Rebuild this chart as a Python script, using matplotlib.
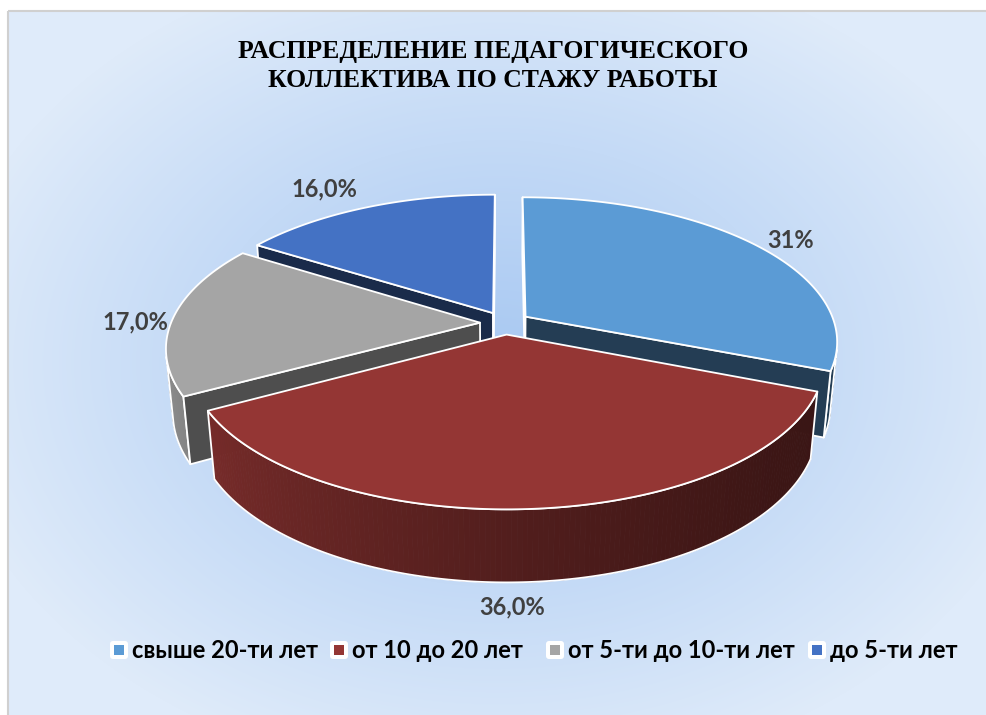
import numpy as np
import matplotlib
matplotlib.use("Agg")
import matplotlib.pyplot as plt
from matplotlib.patches import Polygon, FancyBboxPatch, Rectangle
from matplotlib.colors import to_rgb

# ---------------- data ----------------
categories = ["свыше 20-ти лет", "от 10 до 20 лет", "от 5-ти до 10-ти лет", "до 5-ти лет"]
values = [31, 36, 17, 16]
value_labels = ["31%", "36,0%", "17,0%", "16,0%"]
colors = ["#5B9BD5", "#943634", "#A5A5A5", "#4472C4"]
title = "РАСПРЕДЕЛЕНИЕ ПЕДАГОГИЧЕСКОГО\nКОЛЛЕКТИВА ПО СТАЖУ РАБОТЫ"

# ---------------- layout / style ----------------
W, H = 986, 715
label_pos = [(791, 240), (512, 607), (135, 322), (324, 189)]
legend_x = [119, 339, 555, 817]
legend_y = 650
SANS = ["Lato", "DejaVu Sans"]
SERIF = ["Liberation Serif", "DejaVu Serif"]

fig = plt.figure(figsize=(W / 100, H / 100), dpi=100)
ax = fig.add_axes([0, 0, 1, 1])
ax.set_xlim(0, W)
ax.set_ylim(H, 0)
ax.axis("off")

# background (radial gradient inside frame)
x0, y0 = 8, 11
yy, xx = np.mgrid[y0:H, x0:W].astype(float)
gcx, gcy = 497, 363
r = np.sqrt(((xx - gcx) / 560.0) ** 2 + ((yy - gcy) / 420.0) ** 2)
t = np.clip(r, 0, 1) ** 1.1
c_in = np.array(to_rgb("#a9c9f2"))
c_out = np.array(to_rgb("#dfebfa"))
bg = c_in[None, None, :] * (1 - t[..., None]) + c_out[None, None, :] * t[..., None]
ax.imshow(bg, extent=(x0, W, H, y0), origin="upper", zorder=0, interpolation="bilinear")
ax.add_patch(Rectangle((x0, y0), W - x0 + 5, H - y0 + 5, fill=False,
                       edgecolor="#d0d0d0", lw=1.5, zorder=1))

# ---------------- 3D pie projection ----------------
F = 1644.0
D = 5.32
phi = np.radians(27.2)
cphi, sphi = np.cos(phi), np.sin(phi)
CX, CY = 505.0, 323.0
HGT = 0.237
EXPL = 0.081
cam = np.array([0.0, -D * cphi, D * sphi])


def proj(X, Y, Z):
    X = np.asarray(X, float); Y = np.asarray(Y, float); Z = np.asarray(Z, float)
    d = D + Y * cphi - Z * sphi
    yv = Y * sphi + Z * cphi
    return CX + F * X / d, CY - F * yv / d


def shade(col, f):
    c = np.array(to_rgb(col)) * f
    return tuple(np.clip(c, 0, 1))


def side_factor(th):
    return 0.64 + 0.243 * np.cos(np.radians(th - 290))


def radial_factor(nang):
    nang = nang % 360
    return float(np.clip(0.47 - 0.0015 * (nang - 151), 0.3, 0.58))


def visible(n, p):
    return np.dot(n, cam - p) > 0


EDGE = dict(edgecolor="white", lw=1.3, joinstyle="round")

total = float(sum(values))
starts = np.cumsum([0] + values[:-1]) / total * 360.0
ends = np.cumsum(values) / total * 360.0
mids = (starts + ends) / 2
order = np.argsort(-np.cos(np.radians(mids)))  # back first

z = 2
for i in order:
    a0, a1, m = starts[i], ends[i], mids[i]
    col = colors[i]
    ox, oy = EXPL * np.sin(np.radians(m)), EXPL * np.cos(np.radians(m))
    th = np.linspace(a0, a1, 160)
    tr = np.radians(th)
    RX, RY = ox + np.sin(tr), oy + np.cos(tr)

    # outer curved side
    vis = np.array([visible(np.array([np.sin(a), np.cos(a), 0]),
                            np.array([ox + np.sin(a), oy + np.cos(a), 0.0])) for a in tr])
    if vis.any():
        idx = np.where(vis)[0]
        for k in idx[:-1]:
            if not vis[k + 1]:
                continue
            xs = [RX[k], RX[k + 1], RX[k + 1], RX[k]]
            ys = [RY[k], RY[k + 1], RY[k + 1], RY[k]]
            zs = [0, 0, -HGT, -HGT]
            px, py = proj(xs, ys, zs)
            fc = shade(col, side_factor((th[k] + th[k + 1]) / 2))
            ax.add_patch(Polygon(np.c_[px, py], closed=True, facecolor=fc,
                                 edgecolor=fc, lw=0.6, zorder=z))
        k0, k1 = idx[0], idx[-1]
        tx, ty = proj(RX[k0:k1 + 1], RY[k0:k1 + 1], np.zeros(k1 - k0 + 1))
        bx, by = proj(RX[k0:k1 + 1][::-1], RY[k0:k1 + 1][::-1], -HGT * np.ones(k1 - k0 + 1))
        ax.add_patch(Polygon(np.c_[np.r_[tx, bx], np.r_[ty, by]], closed=True,
                             facecolor="none", zorder=z + 0.5, **EDGE))

    # radial faces
    for ang, nang in ((a0, a0 - 90), (a1, a1 + 90)):
        n = np.array([np.sin(np.radians(nang)), np.cos(np.radians(nang)), 0])
        rx, ry = ox + np.sin(np.radians(ang)), oy + np.cos(np.radians(ang))
        pmid = np.array([(ox + rx) / 2, (oy + ry) / 2, -HGT / 2])
        if visible(n, pmid):
            px, py = proj([ox, rx, rx, ox], [oy, ry, ry, oy], [0, 0, -HGT, -HGT])
            ax.add_patch(Polygon(np.c_[px, py], closed=True,
                                 facecolor=shade(col, radial_factor(nang)),
                                 zorder=z + 0.6, **EDGE))

    # top face
    px, py = proj(np.r_[ox, RX], np.r_[oy, RY], np.zeros(len(RX) + 1))
    ax.add_patch(Polygon(np.c_[px, py], closed=True, facecolor=col,
                         zorder=z + 0.8, **EDGE))
    z += 1

# data labels
for (lx, ly), s in zip(label_pos, value_labels):
    ax.text(lx, ly, s, ha="center", va="center", fontsize=17, fontweight="bold",
            color="#404040", family=SANS, zorder=20)

# title
ax.text(493, 66, title, ha="center", va="center", fontsize=18.5, fontweight="bold",
        color="black", family=SERIF, linespacing=1.3, zorder=20)

# legend
for lx, cat, col in zip(legend_x, categories, colors):
    ax.add_patch(FancyBboxPatch((lx - 9, legend_y - 9), 18, 18,
                                boxstyle="round,pad=0,rounding_size=3",
                                facecolor="white", edgecolor="none", zorder=20))
    ax.add_patch(Rectangle((lx - 5, legend_y - 5), 10, 10, facecolor=col,
                           edgecolor="none", zorder=21))
    ax.text(lx + 13, legend_y, cat, ha="left", va="center", fontsize=17,
            fontweight="bold", color="black", family=SANS, zorder=21)

fig.savefig("out.png", dpi=100, facecolor="white")
